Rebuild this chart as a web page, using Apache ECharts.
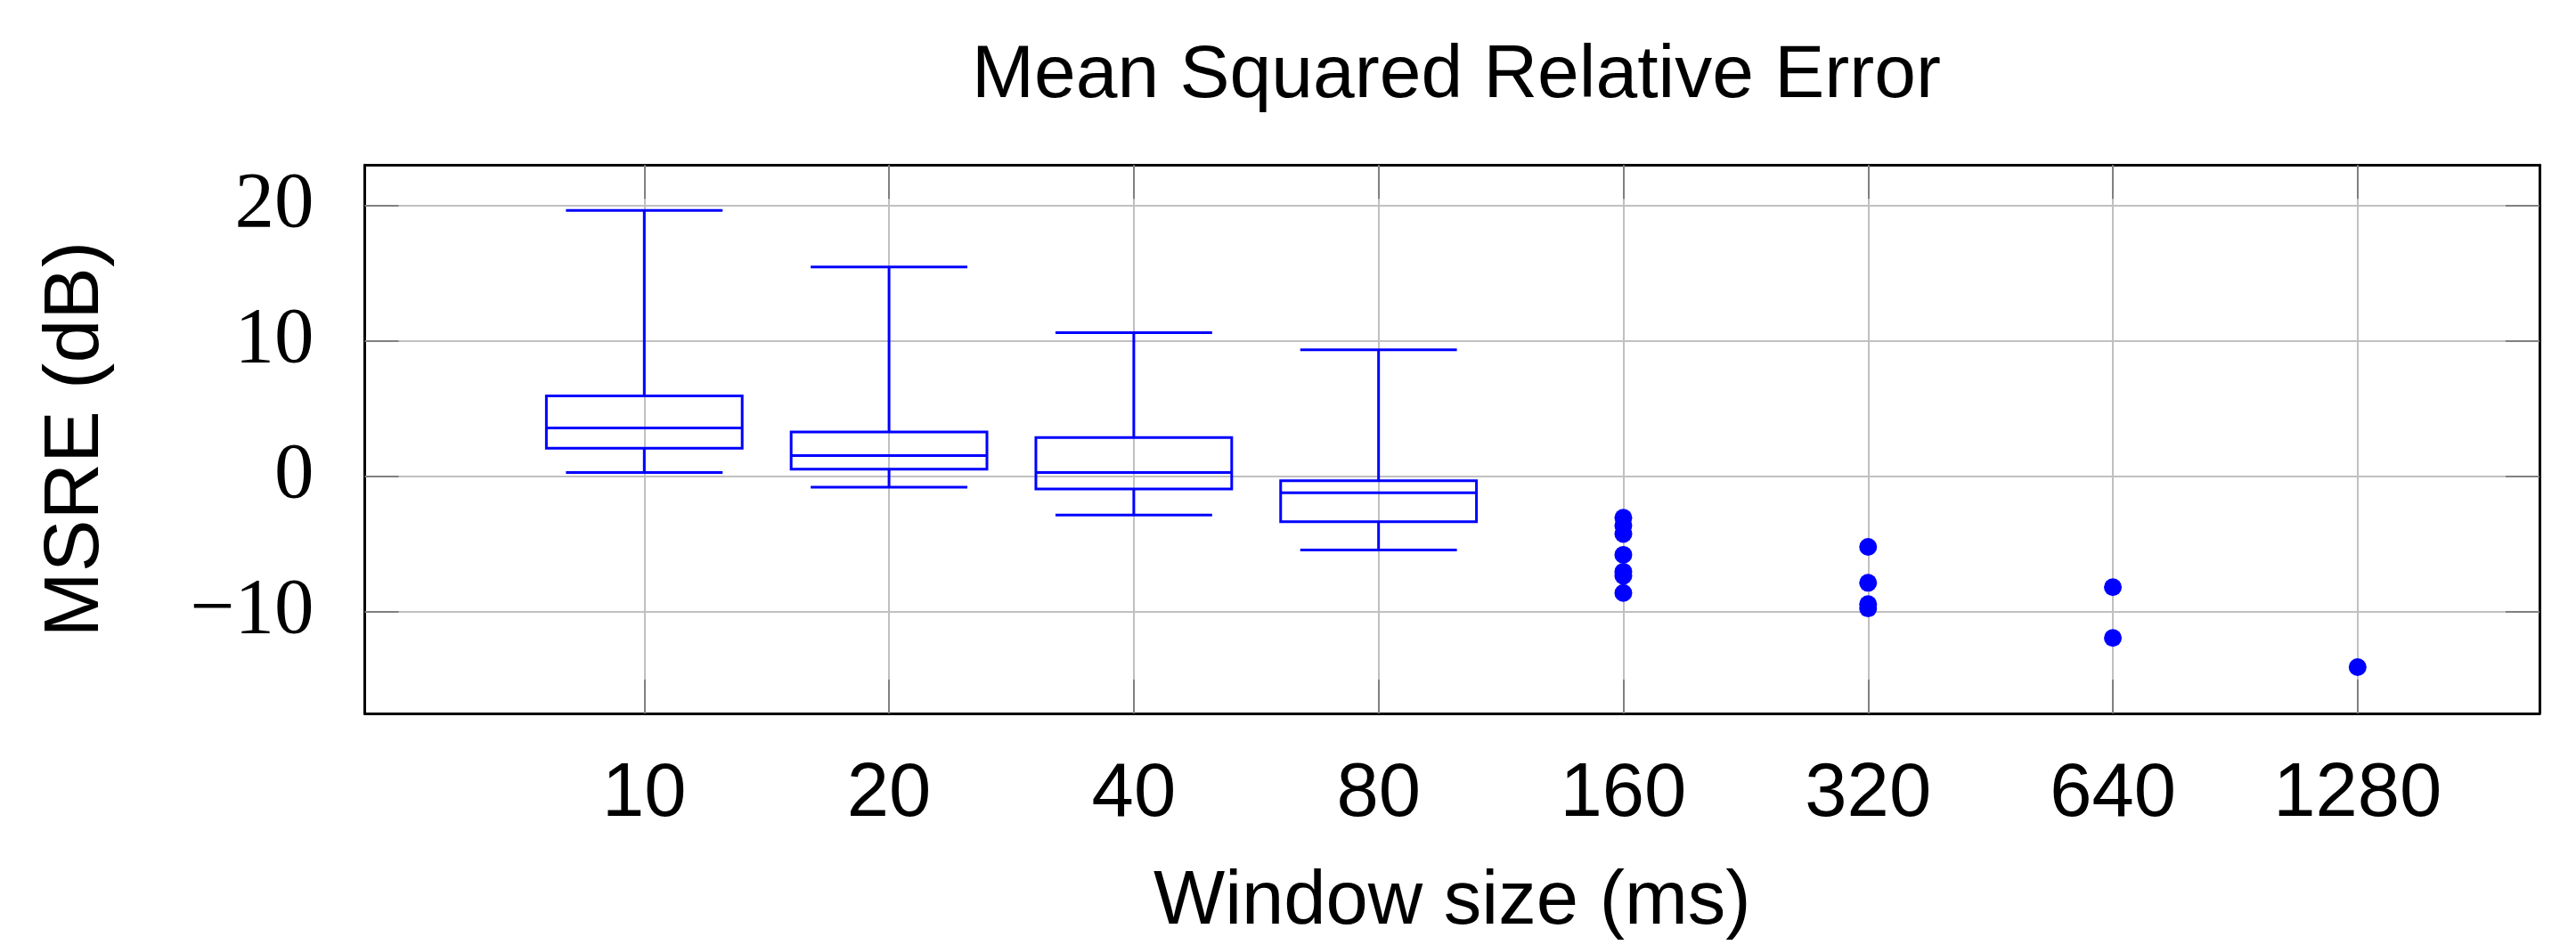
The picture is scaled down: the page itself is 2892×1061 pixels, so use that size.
<!DOCTYPE html>
<html>
<head>
<meta charset="utf-8">
<script src="https://cdn.jsdelivr.net/npm/echarts@6/dist/echarts.min.js"></script>
<style>
html,body{margin:0;padding:0;background:#fff;}
#chart{width:2892px;height:1061px;}
</style>
</head>
<body>
<div id="chart"></div>
<script>
// ---- data ----
var categories = ['10', '20', '40', '80', '160', '320', '640', '1280'];
var boxIndex = [0, 1, 2, 3];
var lowWhisker = [0.26, -0.84, -2.89, -5.48];
var q1 = [2.05, 0.50, -0.97, -3.39];
var median = [3.54, 1.51, 0.26, -1.25];
var q3 = [5.91, 3.24, 2.83, -0.35];
var highWhisker = [19.61, 15.43, 10.59, 9.32];
var outliers160 = [-3.09, -3.67, -4.29, -5.83, -7.08, -7.38, -8.65];
var outliers320 = [-5.24, -7.90, -9.47, -9.79];
var outliers640 = [-8.22, -11.97];
var outliers1280 = [-14.13];
var yTicks = [-10, 0, 10, 20];
var xTicks = [0, 1, 2, 3, 4, 5, 6, 7];

// ---- build ----
var boxData = boxIndex.map(function (i, k) {
  return [i, lowWhisker[k], q1[k], median[k], q3[k], highWhisker[k]];
});
var outlierData = [];
[[4, outliers160], [5, outliers320], [6, outliers640], [7, outliers1280]].forEach(function (p) {
  p[1].forEach(function (v) { outlierData.push([p[0], v]); });
});

var BLUE = '#0000ff';
var sans = '"Liberation Sans", Arial, sans-serif';
var serif = '"Liberation Serif", "Times New Roman", serif';
var tickStyle = { show: true, inside: true, length: 38, lineStyle: { color: '#808080', width: 2 } };
var axisLineStyle = { show: true, onZero: false, lineStyle: { color: '#000', width: 3 } };
var X_MIN = -1.142, X_MAX = 7.743, Y_MIN = -17.55, Y_MAX = 22.97;

function fmtY(v) { return v < 0 ? '\u2212' + Math.abs(v) : String(v); }

var option = {
  animation: false,
  backgroundColor: '#fff',
  title: {
    text: 'Mean Squared Relative Error',
    left: 1630, top: 39, textAlign: 'center',
    textStyle: { fontFamily: sans, fontSize: 84, fontWeight: 'normal', color: '#000' }
  },
  grid: { left: 409.5, top: 185.3, width: 2441.5, height: 625.7, containLabel: false },
  xAxis: [{
    type: 'value', position: 'bottom', min: X_MIN, max: X_MAX,
    axisLine: axisLineStyle,
    axisTick: Object.assign({ customValues: xTicks }, tickStyle),
    axisLabel: {
      customValues: xTicks, margin: 49,
      formatter: function (v) { return categories[Math.round(v)]; },
      fontFamily: sans, fontSize: 85, color: '#000'
    },
    splitLine: { show: true, lineStyle: { color: '#c0c0c0', width: 2 } },
    name: 'Window size (ms)', nameLocation: 'middle', nameGap: 170,
    nameTextStyle: { fontFamily: sans, fontSize: 85, color: '#000' }
  }, {
    type: 'value', position: 'top', min: X_MIN, max: X_MAX,
    axisLine: axisLineStyle,
    axisTick: Object.assign({ customValues: xTicks }, tickStyle),
    axisLabel: { show: false },
    splitLine: { show: false }
  }],
  yAxis: [{
    type: 'value', position: 'left', min: Y_MIN, max: Y_MAX,
    axisLine: axisLineStyle,
    axisTick: Object.assign({ customValues: yTicks }, tickStyle),
    axisLabel: {
      customValues: yTicks, margin: 57, formatter: fmtY,
      fontFamily: serif, fontSize: 89, color: '#000'
    },
    splitLine: { show: true, lineStyle: { color: '#c0c0c0', width: 2 } },
    name: 'MSRE (dB)', nameLocation: 'middle', nameGap: 280, nameRotate: 90,
    nameTextStyle: { fontFamily: sans, fontSize: 88, color: '#000' }
  }, {
    type: 'value', position: 'right', min: Y_MIN, max: Y_MAX,
    axisLine: axisLineStyle,
    axisTick: Object.assign({ customValues: yTicks }, tickStyle),
    axisLabel: { show: false },
    splitLine: { show: false }
  }],
  series: [{
    type: 'custom',
    xAxisIndex: 0, yAxisIndex: 0,
    data: boxData,
    encode: { x: 0, y: [1, 2, 3, 4, 5] },
    renderItem: function (params, api) {
      var x = api.value(0);
      var unit = api.size([1, 0])[0];
      var boxW = unit * 0.8, capW = unit * 0.64;
      var pLow = api.coord([x, api.value(1)]);
      var pQ1 = api.coord([x, api.value(2)]);
      var pMed = api.coord([x, api.value(3)]);
      var pQ3 = api.coord([x, api.value(4)]);
      var pHigh = api.coord([x, api.value(5)]);
      var cx = pMed[0];
      var st = { stroke: BLUE, lineWidth: 3, fill: null };
      function line(x1, y1, x2, y2) {
        return { type: 'line', shape: { x1: x1, y1: y1, x2: x2, y2: y2 }, style: st };
      }
      return {
        type: 'group',
        children: [
          line(cx, pQ3[1], cx, pHigh[1]),
          line(cx, pQ1[1], cx, pLow[1]),
          line(cx - capW / 2, pHigh[1], cx + capW / 2, pHigh[1]),
          line(cx - capW / 2, pLow[1], cx + capW / 2, pLow[1]),
          { type: 'rect', shape: { x: cx - boxW / 2, y: pQ3[1], width: boxW, height: pQ1[1] - pQ3[1] }, style: st },
          line(cx - boxW / 2, pMed[1], cx + boxW / 2, pMed[1])
        ]
      };
    },
    z: 3
  }, {
    type: 'scatter',
    xAxisIndex: 0, yAxisIndex: 0,
    data: outlierData,
    symbol: 'circle', symbolSize: 20,
    itemStyle: { color: BLUE, opacity: 1 },
    z: 4
  }]
};

var chart = echarts.init(document.getElementById('chart'), null, { renderer: 'canvas' });
chart.setOption(option);
</script>
</body>
</html>
